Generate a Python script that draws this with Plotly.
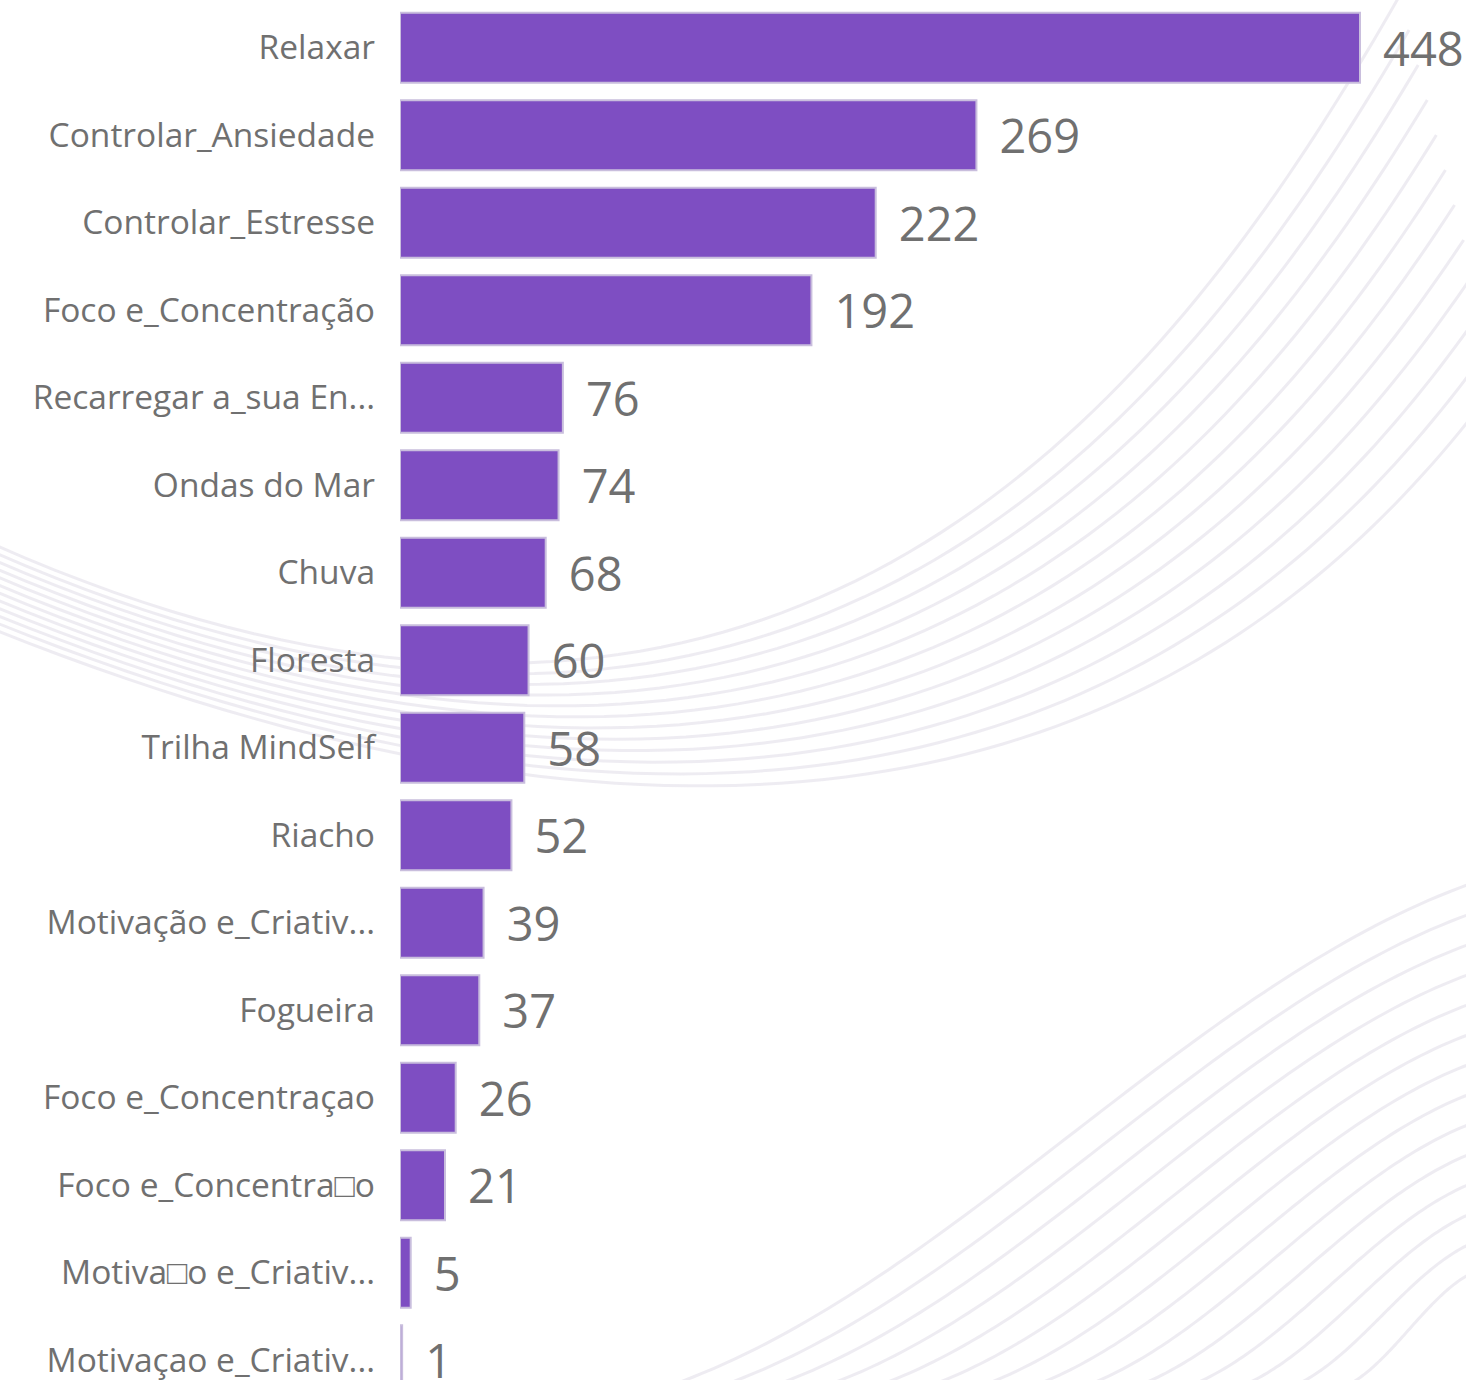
import plotly.graph_objects as go
import numpy as np

categories = [
    "Relaxar",
    "Controlar_Ansiedade",
    "Controlar_Estresse",
    "Foco e_Concentração",
    "Recarregar a_sua En...",
    "Ondas do Mar",
    "Chuva",
    "Floresta",
    "Trilha MindSelf",
    "Riacho",
    "Motivação e_Criativ...",
    "Fogueira",
    "Foco e_Concentraçao",
    "Foco e_Concentra□o",
    "Motiva□o e_Criativ...",
    "Motivaçao e_Criativ...",
]
values = [448, 269, 222, 192, 76, 74, 68, 60, 58, 52, 39, 37, 26, 21, 5, 1]

W, H = 1466, 1380
ML, MR, MT, MB = 400, 0, 4, 0
PW, PH = W - ML - MR, H - MT - MB
STEP = 87.5
px_per_unit = 960 / 448.0
x_max = PW / px_per_unit
y_span = PH / STEP

fig = go.Figure()
fig.add_trace(go.Bar(
    x=values,
    y=categories,
    orientation="h",
    marker=dict(color="#7E4EC2", line=dict(color="#C9BEDD", width=2)),
    text=values,
    texttemplate="\u00a0\u2006%{x}",
    textposition="outside",
    textfont=dict(family="Open Sans", size=47, color="#707070"),
    cliponaxis=False,
    hoverinfo="skip",
))

# ---- decorative background curves (pixel -> paper conversion) ----
def px2paper(x, y):
    return (x - ML) / PW, 1 - (y - MT) / PH

shapes = []
LINE_COL = "rgba(232,229,238,0.75)"

def cubic(P, n=80):
    t = np.linspace(0, 1, n)[:, None]
    P = np.asarray(P, dtype=float)
    return ((1 - t) ** 3) * P[0] + 3 * ((1 - t) ** 2) * t * P[1] + 3 * (1 - t) * t ** 2 * P[2] + t ** 3 * P[3]

def add_path(pts, color, width):
    pp = [px2paper(a, b) for a, b in pts]
    path = "M " + " L ".join(f"{a:.5f},{b:.5f}" for a, b in pp)
    shapes.append(dict(type="path", path=path, xref="paper", yref="paper",
                       line=dict(color=color, width=width), layer="below"))

# swoosh: lines from top right, bowl bottom near x~700, converging to a band at left
inner = np.array([(1400, -5), (1180, 380), (800, 900), (-5, 545)])
outer = np.array([(1500, 380), (1300, 650), (900, 990), (-5, 630)])
N1 = 12
for i in range(N1):
    f = i / (N1 - 1)
    add_path(cubic((1 - f) * inner + f * outer), LINE_COL, 3)

# bottom-right family of gently S-shaped lines
N2 = 14
for i in range(N2):
    x0, y0 = 1470, 884 + i * 30
    x3, y3 = 672 + i * 52, 1385
    dx, dy = x0 - x3, y3 - y0
    P = [(x0, y0), (x0 - 0.35 * dx, y0 + 0.2 * dy), (x3 + 0.35 * dx, y3 - 0.2 * dy), (x3, y3)]
    add_path(cubic(P), LINE_COL, 3)

fig.update_layout(
    width=W, height=H,
    margin=dict(l=ML, r=MR, t=MT, b=MB, autoexpand=False),
    paper_bgcolor="white",
    plot_bgcolor="rgba(0,0,0,0)",
    bargap=0.2,
    showlegend=False,
    shapes=shapes,
    xaxis=dict(range=[0, x_max], visible=False, fixedrange=True),
    yaxis=dict(
        range=[-0.5 + y_span, -0.5],
        showgrid=False, zeroline=False, showline=False, ticks="",
        ticklabelstandoff=24,
        tickfont=dict(family="Open Sans", size=33.5, color="#707070"),
        automargin=False,
    ),
    font=dict(family="Open Sans"),
)

fig.write_html("out.html")
